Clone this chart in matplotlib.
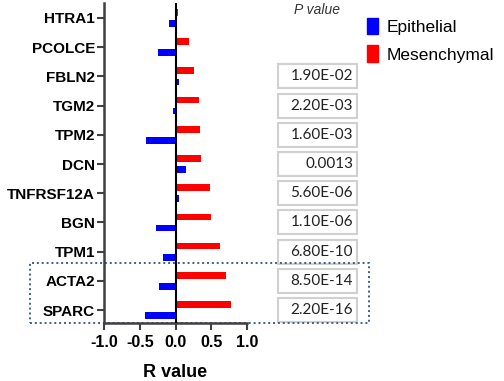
import numpy as np
import matplotlib.pyplot as plt
from matplotlib.patches import Rectangle, Patch
from matplotlib.transforms import blended_transform_factory

# ---------------- data ----------------
genes = ["HTRA1", "PCOLCE", "FBLN2", "TGM2", "TPM2", "DCN",
         "TNFRSF12A", "BGN", "TPM1", "ACTA2", "SPARC"]
r_mesenchymal = [0.04, 0.19, 0.26, 0.33, 0.34, 0.35, 0.48, 0.50, 0.615, 0.70, 0.78]
r_epithelial = [-0.09, -0.24, 0.05, -0.03, -0.41, 0.145, 0.05, -0.28, -0.17, -0.225, -0.42]
p_values = [None, None, "1.90E-02", "2.20E-03", "1.60E-03", "0.0013",
            "5.60E-06", "1.10E-06", "6.80E-10", "8.50E-14", "2.20E-16"]
highlighted = ["ACTA2", "SPARC"]
x_ticks = [-1.0, -0.5, 0.0, 0.5, 1.0]

plt.rcParams["font.family"] = ["Liberation Sans", "DejaVu Sans"]

fig = plt.figure(figsize=(5.04, 3.81), dpi=100)
ax = fig.add_axes([0.2063, 0.152, 0.284, 0.840])

y = np.arange(len(genes))
bar_h = 0.23
off = 0.19
ax.barh(y - off, r_mesenchymal, height=bar_h, color="#ff0000", label="Mesenchymal")
ax.barh(y + off, r_epithelial, height=bar_h, color="#0000ff", label="Epithelial")
ax.axvline(0, color="black", lw=1.5, zorder=3)

ax.set_xlim(-1, 1)
ax.set_ylim(10.445, -0.51)
ax.set_yticks(y)
ax.set_yticklabels(genes, fontweight="bold", fontsize=11)
ax.set_xticks(x_ticks)
ax.set_xticklabels([f"{v:.1f}" for v in x_ticks], fontweight="bold", fontsize=11.5)
ax.set_xlabel("R value", fontweight="bold", fontsize=13, labelpad=10)

for s in ["top", "right"]:
    ax.spines[s].set_visible(False)
for s in ["left", "bottom"]:
    ax.spines[s].set_color("#404040")
    ax.spines[s].set_linewidth(1.8)
ax.tick_params(axis="both", colors="#404040", width=1.5, length=5, labelcolor="black")
ax.tick_params(axis="y", pad=1.5)

# ---------------- P value column ----------------
trans = blended_transform_factory(fig.transFigure, ax.transData)
fig.text(0.628, 0.975, "P value", style="italic", fontsize=10, color="#333333",
         ha="center", va="center")
box_x0, box_w, box_h = 278 / 504, 79 / 504, 0.82
for yi, pv in zip(y, p_values):
    if pv is None:
        continue
    ax.add_patch(Rectangle((box_x0, yi - box_h / 2), box_w, box_h, transform=trans,
                           fill=False, ec="#d0d0d0", lw=1.5, clip_on=False))
    ax.text(box_x0 + box_w - 4 / 504, yi, pv, transform=trans, ha="right", va="center",
            fontsize=11, family=["Lato", "DejaVu Sans"], color="#222222")

# dotted frame around highlighted genes
i0, i1 = genes.index(highlighted[0]), genes.index(highlighted[-1])
ax.add_patch(Rectangle((30 / 504, i1 + 0.445), 339 / 504, -(i1 - i0 + 1.05), transform=trans,
                       fill=False, ec="#3d5f8f", lw=1.4, ls=(0, (1, 1.5)), clip_on=False))

# legend
handles = [Patch(color="#0000ff", label="Epithelial"), Patch(color="#ff0000", label="Mesenchymal")]
fig.legend(handles=handles, loc="upper left", bbox_to_anchor=(0.715, 0.972), frameon=False,
           fontsize=12.5, handlelength=0.6, handleheight=1.1, handletextpad=0.5,
           labelspacing=0.6, borderaxespad=0)

fig.savefig("out.png", dpi=100)
